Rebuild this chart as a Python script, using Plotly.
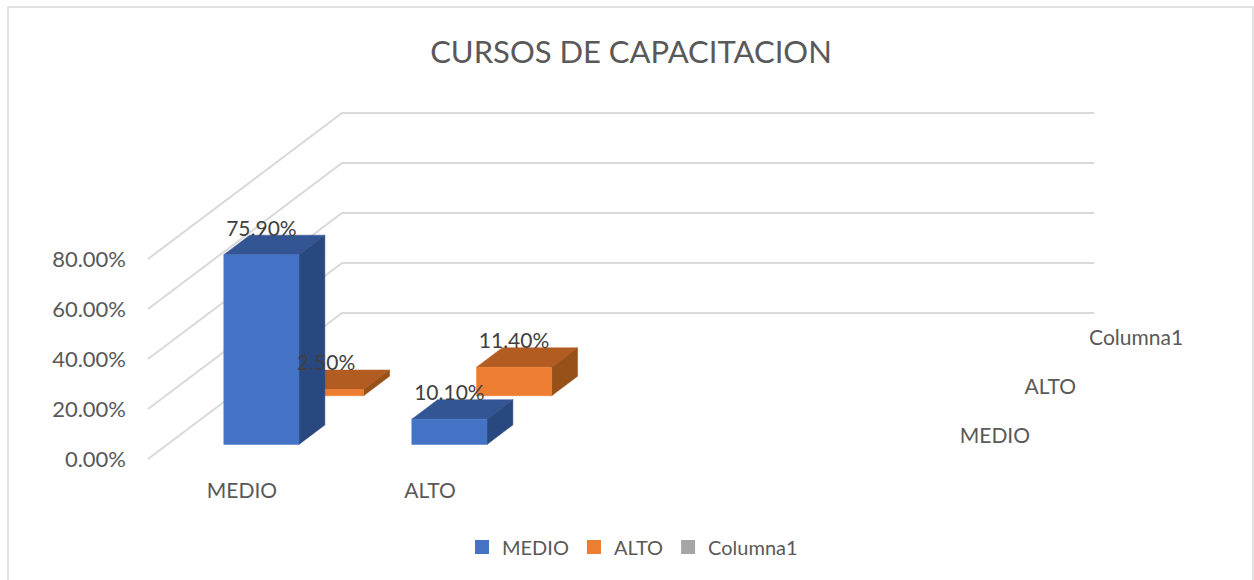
import plotly.graph_objects as go

# ---- data ----
categories = ["MEDIO", "ALTO"]
series_names = ["MEDIO", "ALTO", "Columna1"]
medio_values = [75.9, 10.1]
alto_values = [2.5, 11.4]
columna1_values = [None, None]
value_ticks = [0, 20, 40, 60, 80]

# ---- style ----
FONT = "Lato, Carlito, Calibri, sans-serif"
GREY = "#595959"
DARK = "#404040"
GRID = "#D9D9D9"
FRONT = {"MEDIO": "#4472C4", "ALTO": "#ED7D31"}
TOP = {"MEDIO": "#335593", "ALTO": "#B25C22"}
SIDE = {"MEDIO": "#2A4880", "ALTO": "#985019"}
W, H = 1254, 580

# oblique projection of the Excel 3-D chart (depth step, in axis units)
DX = 64.67 / 188
DY = 48.67 / 2.5
N_CATS = 4
N_DEPTH = 3
BAR_LO, BAR_HI = 0.3, 0.7


def project(cat, depth, value):
    return cat + depth * DX, value + depth * DY


def poly(points, color):
    xy = [project(*p) for p in points]
    xs = [p[0] for p in xy] + [xy[0][0]]
    ys = [p[1] for p in xy] + [xy[0][1]]
    return go.Scatter(x=xs, y=ys, mode="lines", fill="toself", fillcolor=color,
                      line=dict(color=color, width=0.5), showlegend=False, hoverinfo="skip")


fig = go.Figure()

# walls: gridlines run from the front tick, to the back, then across
for v in value_ticks:
    a = project(0, 0, v)
    b = project(0, N_DEPTH, v)
    c = project(N_CATS, N_DEPTH, v)
    fig.add_trace(go.Scatter(x=[a[0], b[0], c[0]], y=[a[1], b[1], c[1]], mode="lines",
                             line=dict(color=GRID, width=2), showlegend=False, hoverinfo="skip"))

# bars, back to front
series_data = [("MEDIO", 0, medio_values), ("ALTO", 1, alto_values)]
for name, s, vals in reversed(series_data):
    for i, v in enumerate(vals):
        c0, c1 = i + BAR_LO, i + BAR_HI
        d0, d1 = s + BAR_LO, s + BAR_HI
        fig.add_trace(poly([(c0, d0, v), (c1, d0, v), (c1, d1, v), (c0, d1, v)], TOP[name]))
        fig.add_trace(poly([(c1, d0, 0), (c1, d1, 0), (c1, d1, v), (c1, d0, v)], SIDE[name]))
        fig.add_trace(poly([(c0, d0, 0), (c1, d0, 0), (c1, d0, v), (c0, d0, v)], FRONT[name]))

# data labels
for name, s, vals in series_data:
    xs, ys, txt = [], [], []
    for i, v in enumerate(vals):
        x, y = project(i + 0.5, s + BAR_LO, v + 9.7)
        xs.append(x)
        ys.append(y)
        txt.append(f"{v:.2f}%")
    fig.add_trace(go.Scatter(x=xs, y=ys, text=txt, mode="text", textposition="middle center",
                             textfont=dict(family=FONT, size=21, color=DARK),
                             showlegend=False, hoverinfo="skip"))

# depth-axis labels
xs, ys = [], []
for s in range(len(series_names)):
    x, y = project(N_CATS + 0.318, s, 8.6)
    xs.append(x)
    ys.append(y)
fig.add_trace(go.Scatter(x=xs, y=ys, text=series_names, mode="text", textposition="middle right",
                         textfont=dict(family=FONT, size=21, color=GREY), cliponaxis=False,
                         showlegend=False, hoverinfo="skip"))

# legend entries
LEG = {"MEDIO": "#4472C4", "ALTO": "#ED7D31", "Columna1": "#A5A5A5"}
for name, vals in zip(series_names, [medio_values, alto_values, columna1_values]):
    fig.add_trace(go.Scatter(x=[None], y=[None], mode="markers", name=name,
                             marker=dict(symbol="square", size=14, color=LEG[name])))

# axes: 188 px per category, 2.5 px per percent; origin at px (148, 459)
PX_L, PX_T, PX_B = 127, 8, 476
fig.update_layout(
    width=W, height=H, margin=dict(l=0, r=0, t=0, b=0),
    paper_bgcolor="white", plot_bgcolor="white",
    font=dict(family=FONT, color=GREY),
    title=dict(text="CURSOS DE CAPACITACION", x=631 / W, xanchor="center",
               y=1 - 52 / H, yanchor="middle", font=dict(family=FONT, size=31, color=GREY)),
    xaxis=dict(domain=[PX_L / W, 1], range=[(PX_L - 148) / 188, (W - 148) / 188],
               tickvals=[i + 0.5 for i in range(len(categories))], ticktext=categories,
               showgrid=False, zeroline=False, showline=False, ticks="",
               tickfont=dict(family=FONT, size=21, color=GREY)),
    yaxis=dict(domain=[1 - PX_B / H, 1 - PX_T / H],
               range=[(459 - PX_B) / 2.5, (459 - PX_T) / 2.5],
               tickvals=value_ticks, ticktext=[f"{v:.2f}%" for v in value_ticks],
               showgrid=False, zeroline=False, showline=False, ticks="",
               tickfont=dict(family=FONT, size=22, color=GREY)),
    legend=dict(orientation="h", x=462 / W, xanchor="left", y=1 - 547 / H, yanchor="middle",
                font=dict(family=FONT, size=20, color=GREY), bgcolor="rgba(0,0,0,0)"),
    shapes=[dict(type="rect", xref="paper", yref="paper", x0=8 / W, x1=1253 / W,
                 y0=-0.05, y1=1 - 7 / H, line=dict(color=GRID, width=1.5), layer="below")],
)

fig.write_html("out.html", config={"displayModeBar": False},
               post_script="document.body.style.margin='0';document.body.style.overflow='hidden';")
